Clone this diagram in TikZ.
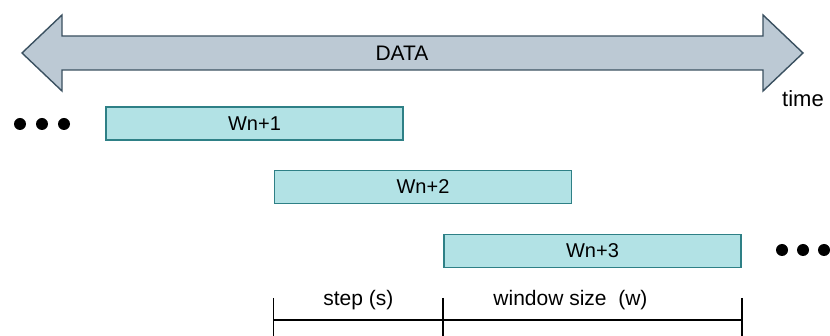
\documentclass[tikz,border=0pt]{standalone}
\usepackage{fontspec}
\setmainfont{Liberation Sans}
\usetikzlibrary{positioning,calc}
\definecolor{winFill}{RGB}{178,226,229}
\definecolor{winEdge}{RGB}{46,128,134}
\definecolor{dataFill}{RGB}{188,201,212}
\definecolor{dataEdge}{RGB}{58,80,96}

\begin{document}
\begin{tikzpicture}[
  x=1pt, y=-1pt,
  font=\fontsize{20}{24}\selectfont,
  window/.style={draw=winEdge, line width=1.8pt, fill=winFill,
                 minimum width=297pt, minimum height=33pt, inner sep=0pt},
  dataarrow/.style={draw=dataEdge, line width=1.4pt, fill=dataFill, line join=miter},
  dot/.style={circle, fill=black, draw=none, minimum size=12pt, inner sep=0pt},
  dimline/.style={draw=black, line width=1.4pt},
  lbl/.style={inner sep=0pt, font=\fontsize{21}{25}\selectfont},
]
\useasboundingbox (0,0) rectangle (830,336);

\def\tickTop{298}
\def\dimY{320}

% ---------- data arrow ----------
\draw[dataarrow] (22,53) -- (62,15) -- (62,36) -- (763,36) -- (763,15)
  -- (803,53) -- (763,91) -- (763,70) -- (62,70) -- (62,91) -- cycle;
\node[lbl] (data) at (402,53) {DATA};
\node[lbl, font=\fontsize{22}{26}\selectfont] (time) at (803,99) {time};

% ---------- windows ----------
\node[window] (w1) at (254.5,123.5) {Wn+1};
\node[window] (w2) at (423,187) {Wn+2};
\node[window] (w3) at (592.5,251) {Wn+3};

% ---------- dots ----------
\foreach \x [count=\i] in {20,42,64}
  \node[dot] (ldot\i) at (\x,124) {};
\foreach \x [count=\i] in {782,803,824}
  \node[dot] (rdot\i) at (\x,250) {};

% ---------- step / window size ----------
\coordinate (tA) at (w2.west |- 0,\tickTop);
\coordinate (tB) at (w3.west |- 0,\tickTop);
\coordinate (tC) at (w3.east |- 0,\tickTop);
\coordinate (bA) at (w2.west |- 0,340);
\coordinate (bB) at (w3.west |- 0,340);
\coordinate (bC) at (w3.east |- 0,340);
\coordinate (mA) at (w2.west |- 0,\dimY);
\coordinate (mC) at (w3.east |- 0,\dimY);
\draw[dimline] (tA) -- (bA);
\draw[dimline] (tB) -- (bB);
\draw[dimline] (tC) -- (bC);
\draw[dimline] (mA) -- (mC);
\node[lbl] (steplbl) at ($(tA)!0.5!(tB)+(0,2)$) {step (s)};
\node[lbl] (winlbl) at ($(tB)!0.5!(tC)+(-22,2)$) {window size\ \ (w)};

\end{tikzpicture}
\end{document}
